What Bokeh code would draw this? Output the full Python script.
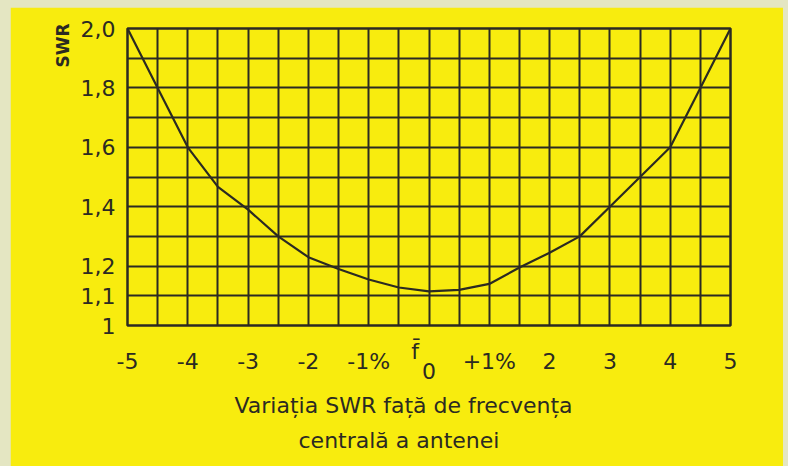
import numpy as np
from bokeh.plotting import figure
from bokeh.models import FixedTicker, Range1d, Title, Spacer
from bokeh.layouts import column, row
from bokeh.embed import file_html
from bokeh.resources import INLINE

# ---- data ----
freq_dev = [-5, -4.75, -4.5, -4, -3.5, -3, -2.5, -2, -1.5, -1, -0.5, 0,
            0.5, 1, 1.5, 2, 2.5, 3, 3.5, 4, 4.5, 4.75, 5]
swr = [2.0, 1.9, 1.8, 1.6, 1.467, 1.39, 1.30, 1.23, 1.19, 1.155, 1.128, 1.115,
       1.12, 1.14, 1.195, 1.245, 1.30, 1.40, 1.50, 1.6, 1.8, 1.9, 2.0]

NB = "\u00a0"
x_ticks = [-5, -4, -3, -2, -1, 0, 1, 2, 3, 4, 5]
x_tick_labels = [NB + "\n-5", NB + "\n-4", NB + "\n-3", NB + "\n-2", NB + "\n-1%",
                 "f\u0304" + NB * 4 + "\n" + NB + "\n0",
                 NB + "\n+1%", NB + "\n2", NB + "\n3", NB + "\n4", NB + "\n5"]
y_ticks = [1.0, 1.1, 1.2, 1.4, 1.6, 1.8, 2.0]
y_tick_labels = ["1", "1,1", "1,2", "1,4", "1,6", "1,8", "2,0"]

caption_line1 = "Variația SWR față de frecvența"
caption_line2 = "centrală a antenei"
y_title = "SWR"

YELLOW = "#f8ec0e"
PAPER = "#e4e6c2"
DARK = "#2b2a22"
FONT = "DejaVu Sans"

p = figure(width=773, height=459, x_range=Range1d(-5, 5), y_range=Range1d(1, 2),
           output_backend="svg", toolbar_location=None,
           min_border_left=117, min_border_right=53, min_border_top=21, min_border_bottom=141)
p.background_fill_color = YELLOW
p.border_fill_color = YELLOW
p.outline_line_color = DARK
p.outline_line_width = 2.5
p.outline_line_alpha = 1.0

# grid
p.xgrid.ticker = FixedTicker(ticks=[round(v, 2) for v in np.arange(-5, 5.01, 0.5)])
p.ygrid.ticker = FixedTicker(ticks=[round(v, 2) for v in np.arange(1.0, 2.01, 0.1)])
for g in (p.xgrid, p.ygrid):
    g.grid_line_color = DARK
    g.grid_line_width = 2
    g.grid_line_alpha = 1.0

# axes
p.xaxis.ticker = FixedTicker(ticks=x_ticks)
p.xaxis.major_label_overrides = dict(zip(x_ticks, x_tick_labels))
p.yaxis.ticker = FixedTicker(ticks=y_ticks)
p.yaxis.major_label_overrides = dict(zip(y_ticks, y_tick_labels))
for ax in (p.xaxis, p.yaxis):
    ax.axis_line_color = None
    ax.major_tick_line_color = None
    ax.minor_tick_line_color = None
    ax.major_tick_out = 0
    ax.major_tick_in = 0
    ax.major_label_text_font = FONT
    ax.major_label_text_font_size = "22px"
    ax.major_label_text_color = DARK
p.xaxis.major_label_standoff = 13
p.xaxis.major_label_text_line_height = 0.41
p.yaxis.major_label_standoff = 12

# curve
p.line(freq_dev, swr, line_color=DARK, line_width=2.2)

# y title at the top of the left side
p.add_layout(Title(text=y_title, align="right", offset=-5, text_font=FONT,
                   text_font_size="17px", text_font_style="bold", text_color=DARK,
                   standoff=10), "left")

# caption below the axis
p.add_layout(Title(text=caption_line1, align="left", offset=107, text_font=FONT,
                   text_font_size="22px", text_font_style="normal", text_color=DARK,
                   standoff=7), "below")
p.add_layout(Title(text=caption_line2, align="left", offset=171, text_font=FONT,
                   text_font_size="22px", text_font_style="normal", text_color=DARK,
                   standoff=8), "below")

layout = column(Spacer(height=7, width=788),
                row(Spacer(width=10, height=459), p, Spacer(width=5, height=459)),
                styles={"background-color": PAPER})

open("out.html", "w").write(file_html(layout, INLINE))
